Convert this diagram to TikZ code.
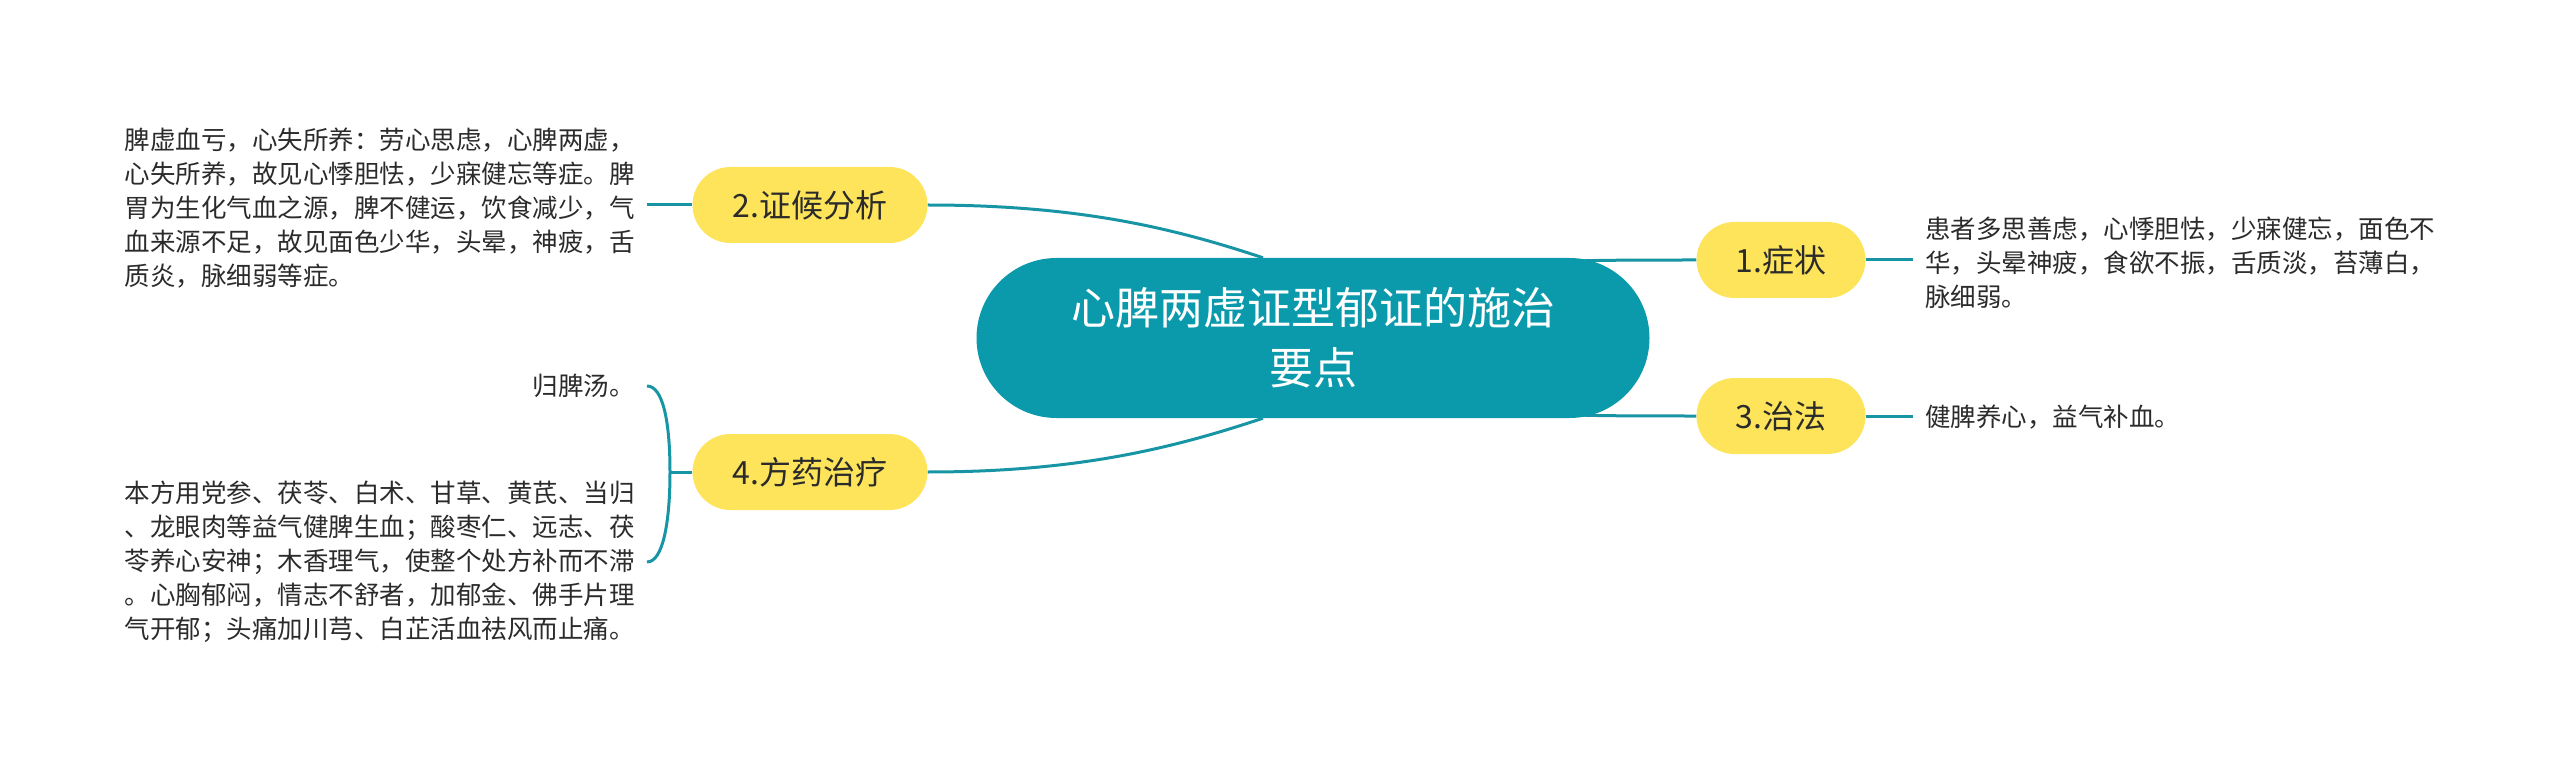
\documentclass[tikz,border=0pt]{standalone}
\usepackage{fontspec}
\newfontfamily\cjk{Noto Sans CJK SC}
\usetikzlibrary{backgrounds}
\definecolor{rootteal}{HTML}{0B9AAB}
\definecolor{linkteal}{HTML}{1795A5}
\definecolor{branchyellow}{HTML}{FDE45B}
\definecolor{inkgray}{HTML}{2B2B2B}
\begin{document}
\begin{tikzpicture}[x=1pt, y=-1pt, 
		root/.style={rectangle, fill=rootteal, text=white, rounded corners=80pt, minimum width=673pt, minimum height=160pt, align=center, font=\cjk\fontsize{44}{60}\selectfont},
		branch/.style={rectangle, fill=branchyellow, text=inkgray, rounded corners=38pt, minimum height=76pt, font=\cjk\fontsize{32}{38}\selectfont},
		leaf/.style={inner xsep=12pt, inner ysep=0pt, text=inkgray, font=\cjk\fontsize{25.5}{34}\selectfont},
		link/.style={draw=linkteal, line width=3pt}]
		\useasboundingbox (0,0) rectangle (2560,767);
		\node (ROOT) at (1313,338) [root] {心脾两虚证型郁证的施治\\要点};
		\node (B1) at (1781,260) [branch, minimum width=169pt] {1.症状};
		\node (B2) at (810,205) [branch, minimum width=235pt] {2.证候分析};
		\node (B3) at (1781,416) [branch, minimum width=169pt] {3.治法};
		\node (B4) at (810,472) [branch, minimum width=235pt] {4.方药治疗};
		\node (T1) at (1913,263) [leaf, anchor=west, align=left] {患者多思善虑，心悸胆怯，少寐健忘，面色不\\华，头晕神疲，食欲不振，舌质淡，苔薄白，\\脉细弱。};
		\node (T3) at (1913,417) [leaf, anchor=west, align=left] {健脾养心，益气补血。};
		\node (T2) at (647,208) [leaf, anchor=east, align=left] {脾虚血亏，心失所养：劳心思虑，心脾两虚，\\心失所养，故见心悸胆怯，少寐健忘等症。脾\\胃为生化气血之源，脾不健运，饮食减少，气\\血来源不足，故见面色少华，头晕，神疲，舌\\质炎，脉细弱等症。};
		\node (T4a) at (647,386) [leaf, anchor=east, align=right] {归脾汤。};
		\node (T4b) at (647,562) [leaf, anchor=east, align=right] {本方用党参、茯苓、白术、甘草、黄芪、当归\\、龙眼肉等益气健脾生血；酸枣仁、远志、茯\\苓养心安神；木香理气，使整个处方补而不滞\\。心胸郁闷，情志不舒者，加郁金、佛手片理\\气开郁；头痛加川芎、白芷活血祛风而止痛。};
		\coordinate (K) at (670,472);
		\begin{pgfonlayer}{background}
		\draw[link] (B2.east) .. controls +(150,0) and +(-90,-30) .. ([xshift=-50pt]ROOT.north);
		\draw[link] (B4.east) .. controls +(150,0) and +(-90,30) .. ([xshift=-50pt]ROOT.south);
		\draw[link] (ROOT.center) .. controls +(120,-78) and +(-200,0) .. (B1.west);
		\draw[link] (ROOT.center) .. controls +(120,78) and +(-200,0) .. (B3.west);
		\end{pgfonlayer}
		\draw[link] (B1.east) -- (B1.east -| T1.west);
		\draw[link] (B3.east) -- (B3.east -| T3.west);
		\draw[link] (B2.west) -- (B2.west -| T2.east);
		\draw[link] (B4.west) -- (K);
		\draw[link] (T4a.east) .. controls +(16,0) and +(0,-50) .. (K) .. controls +(0,50) and +(16,0) .. (T4b.east);
\end{tikzpicture}
\end{document}
